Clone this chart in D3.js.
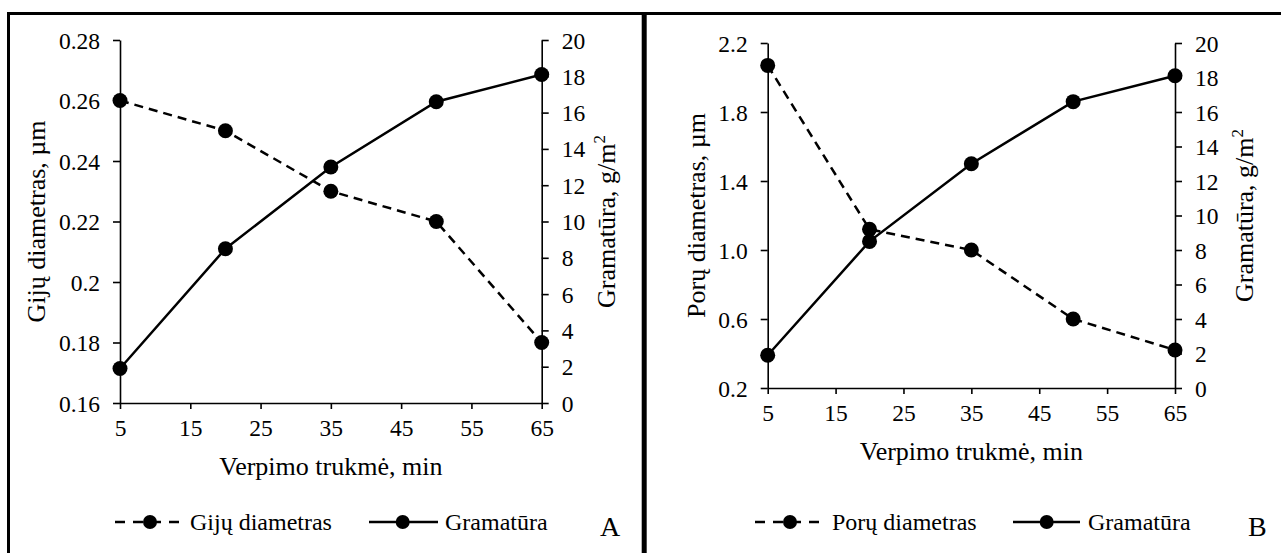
<!DOCTYPE html>
<html>
<head>
<meta charset="utf-8">
<script src="https://cdn.jsdelivr.net/npm/d3@7"></script>
<style>
  html, body { margin: 0; padding: 0; background: #fff; }
  svg { display: block; }
  svg text { font-family: "Liberation Serif", "Times New Roman", Times, "DejaVu Serif", serif !important; fill: #000; }
</style>
</head>
<body>
<div id="chart"></div>
<script>
// Spinning time (min)
const minutes = [5, 20, 35, 50, 65];
// Panel A: fibre diameter (µm)
const gijuDiametras = [0.26, 0.25, 0.23, 0.22, 0.18];
// Panel B: pore diameter (µm)
const poruDiametras = [2.07, 1.12, 1.0, 0.6, 0.42];
// Areal weight (g/m²), shared by both panels
const gramatura = [1.9, 8.5, 13.0, 16.6, 18.1];

const xTicks = [5, 15, 25, 35, 45, 55, 65];
const leftTicksA = [0.16, 0.18, 0.2, 0.22, 0.24, 0.26, 0.28];
const leftTickLabelsA = ["0.16", "0.18", "0.2", "0.22", "0.24", "0.26", "0.28"];
const leftTicksB = [0.2, 0.6, 1.0, 1.4, 1.8, 2.2];
const leftTickLabelsB = ["0.2", "0.6", "1.0", "1.4", "1.8", "2.2"];
const rightTicks = [0, 2, 4, 6, 8, 10, 12, 14, 16, 18, 20];

const W = 1281, H = 553;
const FONT = '"Liberation Serif", "Times New Roman", Times, "DejaVu Serif", serif';
const svg = d3.select("#chart").append("svg").attr("width", W).attr("height", H)
  .attr("font-family", FONT);

// Frame lines
svg.append("line").attr("x1", 7).attr("x2", W).attr("y1", 13.5).attr("y2", 13.5)
  .attr("stroke", "#000").attr("stroke-width", 3);
svg.append("line").attr("x1", 8.5).attr("x2", 8.5).attr("y1", 12).attr("y2", H)
  .attr("stroke", "#000").attr("stroke-width", 3);
svg.append("line").attr("x1", 644.2).attr("x2", 644.2).attr("y1", 12).attr("y2", H)
  .attr("stroke", "#000").attr("stroke-width", 5);

const panels = [
  {
    x0: 120, x1: 541.7, y0: 40, y1: 403,
    leftDomain: [0.16, 0.28], leftTicks: leftTicksA, leftLabels: leftTickLabelsA,
    series: gijuDiametras, leftTitle: "Gijų diametras, µm", leftTitleX: 45,
    rightTitleX: 615, legendName: "Gijų diametras",
    legend: { dash: [115, 182, 150, 190], solid: [369, 438, 402.7, 445] },
    letter: "A", letterX: 600
  },
  {
    x0: 767.7, x1: 1175, y0: 43, y1: 388,
    leftDomain: [0.2, 2.2], leftTicks: leftTicksB, leftLabels: leftTickLabelsB,
    series: poruDiametras, leftTitle: "Porų diametras, µm", leftTitleX: 705,
    rightTitleX: 1253, legendName: "Porų diametras",
    legend: { dash: [755, 822, 790, 832], solid: [1013, 1080, 1046.7, 1088] },
    letter: "B", letterX: 1248
  }
];

const tickFont = 23.5, titleFont = 26, legendFont = 24;

panels.forEach(p => {
  const g = svg.append("g");
  const x = d3.scaleLinear().domain([5, 65]).range([p.x0, p.x1]);
  const yL = d3.scaleLinear().domain(p.leftDomain).range([p.y1, p.y0]);
  const yR = d3.scaleLinear().domain([0, 20]).range([p.y1, p.y0]);

  // Bottom axis
  const xAxis = g.append("g").attr("transform", `translate(0,${p.y1})`)
    .call(d3.axisBottom(x).tickValues(xTicks).tickSize(6).tickSizeOuter(0).tickPadding(10).tickFormat(d3.format("d")));
  // Left axis
  const lAxis = g.append("g").attr("transform", `translate(${p.x0},0)`)
    .call(d3.axisLeft(yL).tickValues(p.leftTicks).tickSize(7).tickSizeOuter(0).tickPadding(13)
      .tickFormat((d, i) => p.leftLabels[i]));
  // Right axis
  const rAxis = g.append("g").attr("transform", `translate(${p.x1},0)`)
    .call(d3.axisRight(yR).tickValues(rightTicks).tickSize(7).tickSizeOuter(0).tickPadding(13).tickFormat(d3.format("d")));

  [xAxis, lAxis, rAxis].forEach(a => {
    a.attr("font-family", FONT).attr("font-size", tickFont);
    a.selectAll("path, line").attr("stroke", "#000").attr("stroke-width", 1.6);
    a.selectAll("text").attr("font-size", tickFont).attr("fill", "#000").attr("font-family", FONT);
  });
  xAxis.selectAll("text").attr("dy", "0.71em");
  [lAxis, rAxis].forEach(a => a.selectAll("text").attr("dy", "0.34em"));

  // Axis titles
  g.append("text").attr("x", (p.x0 + p.x1) / 2).attr("y", p.y1 + 72)
    .attr("text-anchor", "middle").attr("font-size", titleFont).text("Verpimo trukmė, min");
  g.append("text").attr("transform", `translate(${p.leftTitleX},${(p.y0 + p.y1) / 2}) rotate(-90)`)
    .attr("text-anchor", "middle").attr("font-size", titleFont).text(p.leftTitle);
  const rt = g.append("text").attr("transform", `translate(${p.rightTitleX},${(p.y0 + p.y1) / 2}) rotate(-90)`)
    .attr("text-anchor", "middle").attr("font-size", titleFont);
  rt.append("tspan").text("Gramatūra, g/m");
  rt.append("tspan").attr("dy", -10).attr("font-size", 17).text("2");

  // Series lines
  const lineL = d3.line().x((d, i) => x(minutes[i])).y(d => yL(d));
  const lineR = d3.line().x((d, i) => x(minutes[i])).y(d => yR(d));
  g.append("path").datum(p.series).attr("d", lineL).attr("fill", "none")
    .attr("stroke", "#000").attr("stroke-width", 2.5).attr("stroke-dasharray", "9,6");
  g.append("path").datum(gramatura).attr("d", lineR).attr("fill", "none")
    .attr("stroke", "#000").attr("stroke-width", 2.5);
  g.selectAll(".mL").data(p.series).enter().append("circle")
    .attr("cx", (d, i) => x(minutes[i])).attr("cy", d => yL(d)).attr("r", 7.5).attr("fill", "#000");
  g.selectAll(".mR").data(gramatura).enter().append("circle")
    .attr("cx", (d, i) => x(minutes[i])).attr("cy", d => yR(d)).attr("r", 7.5).attr("fill", "#000");

  // Legend
  const ly = 522;
  const [d0, d1, dm, dt] = p.legend.dash;
  g.append("line").attr("x1", d0).attr("x2", d1).attr("y1", ly).attr("y2", ly)
    .attr("stroke", "#000").attr("stroke-width", 2.5).attr("stroke-dasharray", "10,8");
  g.append("circle").attr("cx", dm).attr("cy", ly).attr("r", 7).attr("fill", "#000");
  g.append("text").attr("x", dt).attr("y", ly).attr("dy", "0.34em")
    .attr("font-size", legendFont).text(p.legendName);
  const [s0, s1, sm, st] = p.legend.solid;
  g.append("line").attr("x1", s0).attr("x2", s1).attr("y1", ly).attr("y2", ly)
    .attr("stroke", "#000").attr("stroke-width", 2.5);
  g.append("circle").attr("cx", sm).attr("cy", ly).attr("r", 7).attr("fill", "#000");
  g.append("text").attr("x", st).attr("y", ly).attr("dy", "0.34em")
    .attr("font-size", legendFont).text("Gramatūra");

  // Panel letter
  g.append("text").attr("x", p.letterX).attr("y", 536).attr("font-size", 28).text(p.letter);
});
</script>
</body>
</html>
